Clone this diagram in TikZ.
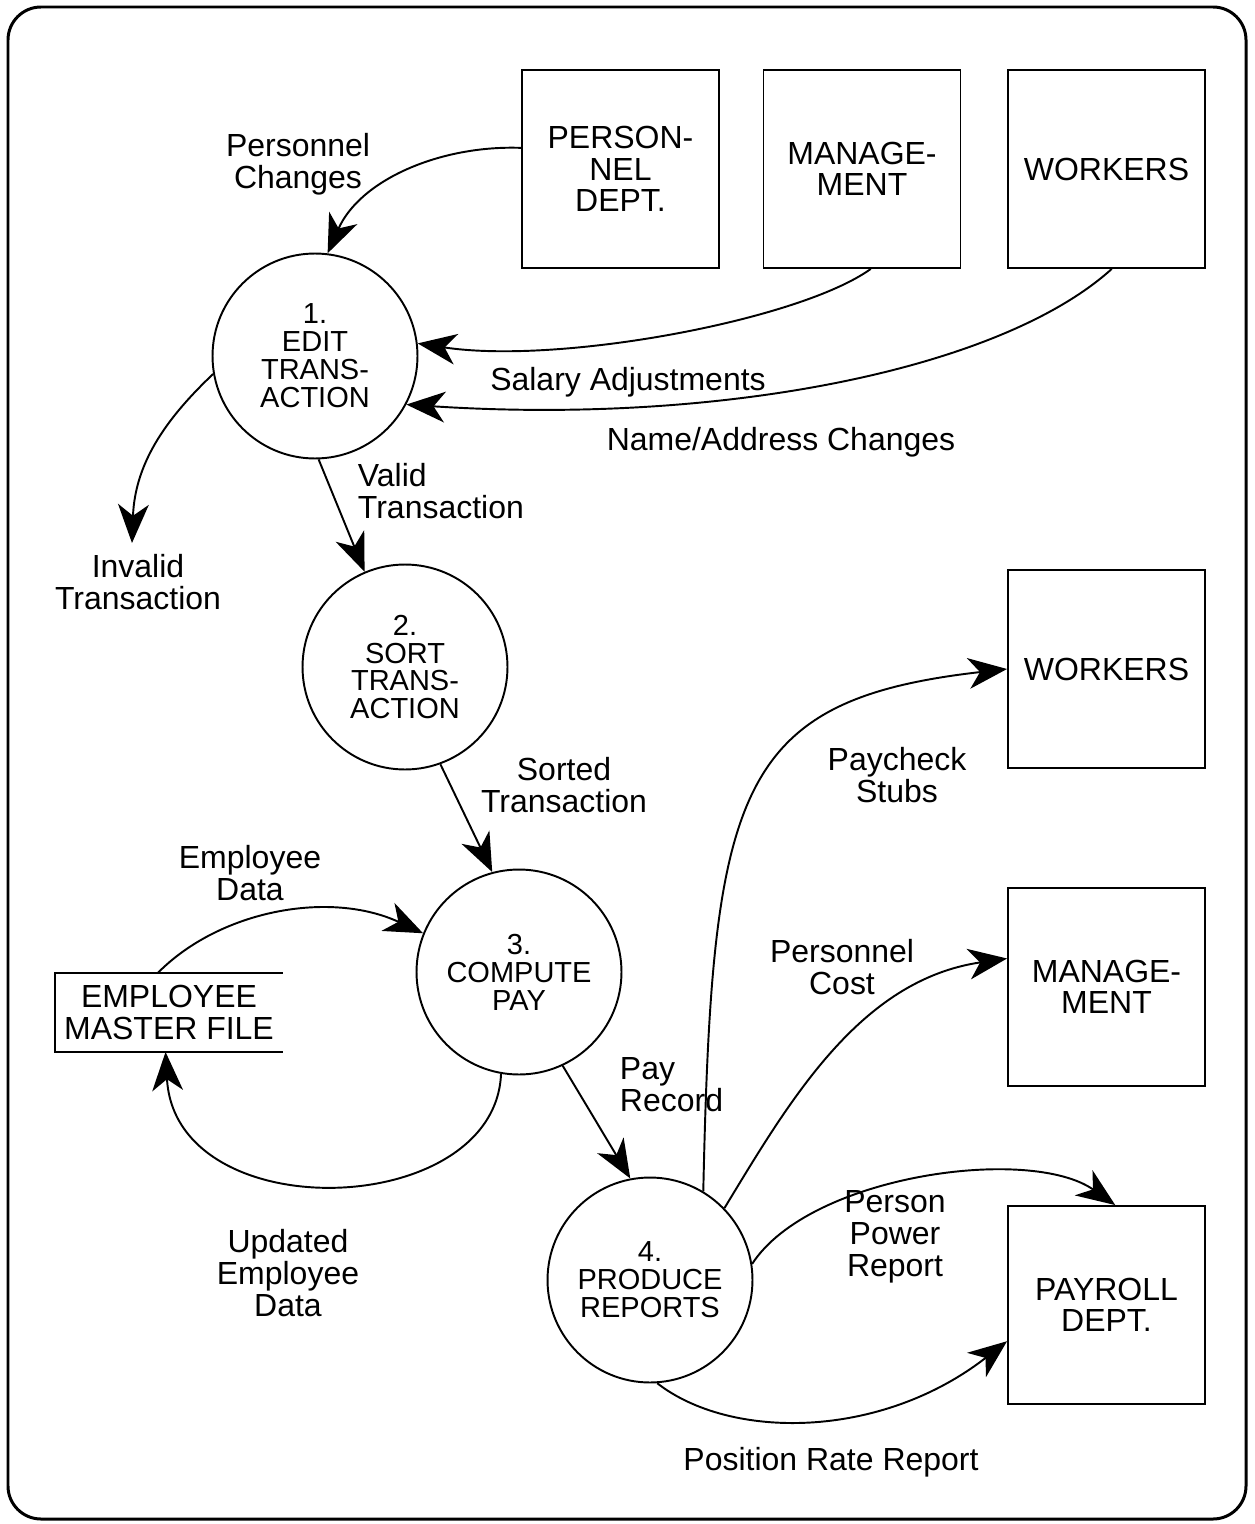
\documentclass[tikz,border=0pt]{standalone}
\usepackage{fontspec}
\setmainfont{Liberation Sans}
\usetikzlibrary{arrows.meta}
\begin{document}
\begin{tikzpicture}[x=0.02cm, y=-0.02cm, line width=1.1pt,
  flow/.style={-{Stealth[length=22pt, width=17.5pt, inset=6.5pt]}},
  process/.style={draw, circle, minimum size=4.1cm, inner sep=0pt, align=center,
    font=\fontsize{16.5}{15.9}\selectfont},
  entity/.style={draw, rectangle, minimum width=3.94cm, minimum height=3.96cm,
    inner sep=0pt, align=center, font=\fontsize{18.2}{17.8}\selectfont},
  lbl/.style={inner sep=0pt, align=center, font=\fontsize{18.2}{18.3}\selectfont},
  lbll/.style={lbl, align=left, anchor=west}]

% page frame
\useasboundingbox (0,0) rectangle (1254,1524);
\draw[line width=1.7pt, rounded corners=0.66cm] (8,7) rectangle (1246,1519);

% external entities
\node[entity] (pers) at (620.5,169) {PERSON-\\NEL\\DEPT.};
\node[entity] (mgmt) at (862,169) {MANAGE-\\MENT};
\node[entity] (wk1)  at (1106.5,169) {WORKERS};
\node[entity] (wk2)  at (1106.5,669) {WORKERS};
\node[entity] (mg2)  at (1106.5,987) {MANAGE-\\MENT};
\node[entity] (pay)  at (1106.5,1305) {PAYROLL\\DEPT.};

% processes
\node[process] (c1) at (315,356)  {1.\\EDIT\\TRANS-\\ACTION};
\node[process] (c2) at (405,667)  {2.\\SORT\\TRANS-\\ACTION};
\node[process] (c3) at (519,972)  {3.\\COMPUTE\\PAY};
\node[process] (c4) at (650,1280) {4.\\PRODUCE\\REPORTS};

% data store (open on the right)
\node[inner sep=0pt, minimum width=4.52cm, minimum height=1.54cm, align=center,
  font=\fontsize{18.2}{17.8}\selectfont] (store) at (169,1012.5)
  {EMPLOYEE\\MASTER FILE};
\draw (store.north east) -- (store.north west) -- (store.south west) -- (store.south east);

\coordinate (inv) at (132,543);

% data flows
\draw[flow] (pers.168) .. controls (440,145) and (360,180) .. (c1.83);
\draw[flow] (mgmt.-85) .. controls (800,320) and (560,365) .. (c1.7);
\draw[flow] (wk1.-87) .. controls (1000,370) and (720,425) .. (c1.-28);
\draw[flow] (c1.190) .. controls (170,415) and (135,460) .. (inv);
\draw[flow] (c1.-88) -- (c2.113);
\draw[flow] (c2.-70) -- (c3.105);
\draw[flow] (store.106) .. controls (220,910) and (330,890) .. (c3.158);
\draw[flow] (c3.-100) .. controls (495,1220) and (175,1230) .. (store.-95);
\draw[flow] (c3.-65) -- (c4.101);
\draw[flow] (c4.59) .. controls (712,790) and (735,700) .. (wk2.west);
\draw[flow] (c4.44) .. controls (790,1100) and (860,980) .. (mg2.164);
\draw[flow] (c4.9) .. controls (810,1175) and (1030,1145) .. (pay.85);
\draw[flow] (c4.-86) .. controls (730,1440) and (880,1440) .. (pay.200);

% flow labels
\node[lbl] (l1) at (298,164) {Personnel\\Changes};
\node[lbl] (l2) at (628,382) {Salary Adjustments};
\node[lbl] (l3) at (781,442) {Name/Address Changes};
\node[lbl] (l4) at (138,582) {Invalid\\Transaction};
\node[lbll] (l5) at (357,491) {Valid\\Transaction};
\node[lbl] (l6) at (564,785) {Sorted\\Transaction};
\node[lbl] (l7) at (250,873) {Employee\\Data};
\node[lbl] (l8) at (288,1273) {Updated\\Employee\\Data};
\node[lbll] (l9) at (619,1085) {Pay\\Record};
\node[lbl] (l10) at (897,775) {Paycheck\\Stubs};
\node[lbl] (l11) at (842,967) {Personnel\\Cost};
\node[lbl] (l12) at (895,1237) {Person\\Power\\Report};
\node[lbl] (l13) at (831,1462) {Position Rate Report};
\end{tikzpicture}
\end{document}
